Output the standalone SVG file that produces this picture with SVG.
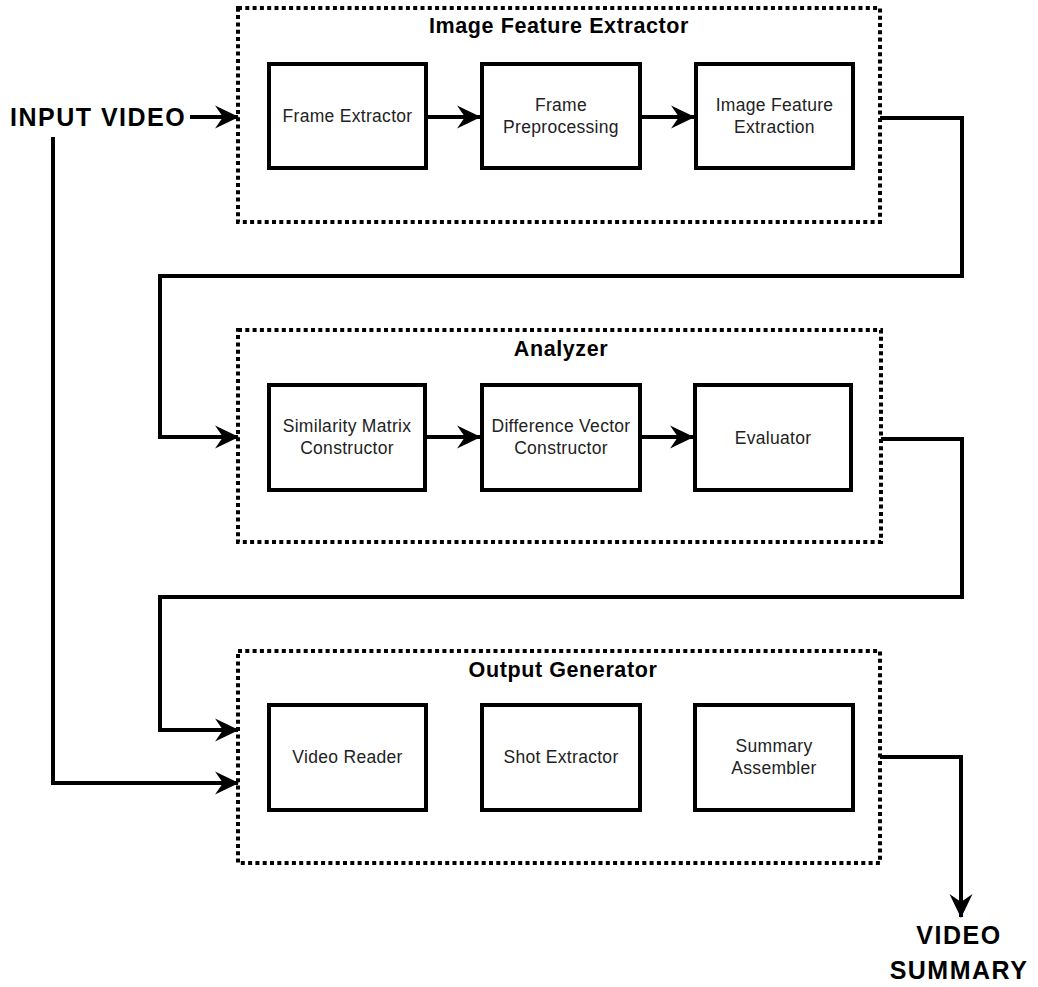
<svg xmlns="http://www.w3.org/2000/svg" width="1038" height="987" viewBox="0 0 1038 987">
<style>
text{font-family:"Liberation Sans",Arial,Helvetica,sans-serif;fill:#000}
.node{font-size:17.5px;letter-spacing:0.3px;text-anchor:middle;fill:#222}
.title{font-size:21.5px;font-weight:bold;letter-spacing:0.6px;text-anchor:middle}
.big{font-size:25px;font-weight:bold;letter-spacing:1.5px}
.box{fill:#fff;stroke:#000;stroke-width:4}
.cont{fill:none;stroke:#000;stroke-width:4;stroke-dasharray:4 3.3}
.con{fill:none;stroke:#000;stroke-width:4;marker-end:url(#arr)}
</style>
<defs>
<marker id="arr" markerUnits="userSpaceOnUse" viewBox="0 0 24 24" markerWidth="24" markerHeight="24" refX="23" refY="12" orient="auto">
<path d="M0,0.5 L24,12 L0,23.5 L8,12 Z" fill="#000"/>
</marker>
</defs>
<rect width="1038" height="987" fill="#fff"/>

<g id="container-image-feature-extractor">
<rect class="cont" x="238" y="8" width="642" height="214"/>
<text class="title" x="559" y="33">Image Feature Extractor</text>
</g>
<g id="container-analyzer">
<rect class="cont" x="238" y="330" width="643" height="212"/>
<text class="title" x="561" y="356">Analyzer</text>
</g>
<g id="container-output-generator">
<rect class="cont" x="238" y="651" width="642" height="212"/>
<text class="title" x="563" y="677">Output Generator</text>
</g>

<g id="connectors">
<line class="con" x1="190" y1="117" x2="238" y2="117"/>
<line class="con" x1="428" y1="117" x2="480" y2="117"/>
<line class="con" x1="642" y1="117" x2="694" y2="117"/>
<polyline class="con" points="880,118 962,118 962,276 160,276 160,437 238,437"/>
<line class="con" x1="427" y1="437" x2="480" y2="437"/>
<line class="con" x1="642" y1="437" x2="693" y2="437"/>
<polyline class="con" points="881,439 962,439 962,597 160,597 160,730 238,730"/>
<polyline class="con" points="53,137 53,783 238,783"/>
<polyline class="con" points="880,757 961,757 961,917"/>
</g>

<g id="input-video"><text class="big" x="10" y="126">INPUT VIDEO</text></g>
<g id="video-summary">
<text class="big" x="959" y="944" text-anchor="middle">VIDEO</text>
<text class="big" x="959" y="979" text-anchor="middle">SUMMARY</text>
</g>

<g id="frame-extractor">
<rect class="box" x="269" y="64" width="157" height="104"/>
<text class="node" x="347.5" y="122">Frame Extractor</text>
</g>
<g id="frame-preprocessing">
<rect class="box" x="482" y="64" width="158" height="104"/>
<text class="node" x="561" y="111">Frame</text>
<text class="node" x="561" y="133">Preprocessing</text>
</g>
<g id="image-feature-extraction">
<rect class="box" x="696" y="64" width="157" height="104"/>
<text class="node" x="774.5" y="111">Image Feature</text>
<text class="node" x="774.5" y="133">Extraction</text>
</g>

<g id="similarity-matrix-constructor">
<rect class="box" x="269" y="385" width="156" height="105"/>
<text class="node" x="347" y="432">Similarity Matrix</text>
<text class="node" x="347" y="454">Constructor</text>
</g>
<g id="difference-vector-constructor">
<rect class="box" x="482" y="385" width="158" height="105"/>
<text class="node" x="561" y="432">Difference Vector</text>
<text class="node" x="561" y="454">Constructor</text>
</g>
<g id="evaluator">
<rect class="box" x="695" y="385" width="156" height="105"/>
<text class="node" x="773" y="444">Evaluator</text>
</g>

<g id="video-reader">
<rect class="box" x="269" y="705" width="157" height="105"/>
<text class="node" x="347.5" y="763">Video Reader</text>
</g>
<g id="shot-extractor">
<rect class="box" x="482" y="705" width="158" height="105"/>
<text class="node" x="561" y="763">Shot Extractor</text>
</g>
<g id="summary-assembler">
<rect class="box" x="695" y="705" width="158" height="105"/>
<text class="node" x="774" y="752">Summary</text>
<text class="node" x="774" y="774">Assembler</text>
</g>
</svg>
